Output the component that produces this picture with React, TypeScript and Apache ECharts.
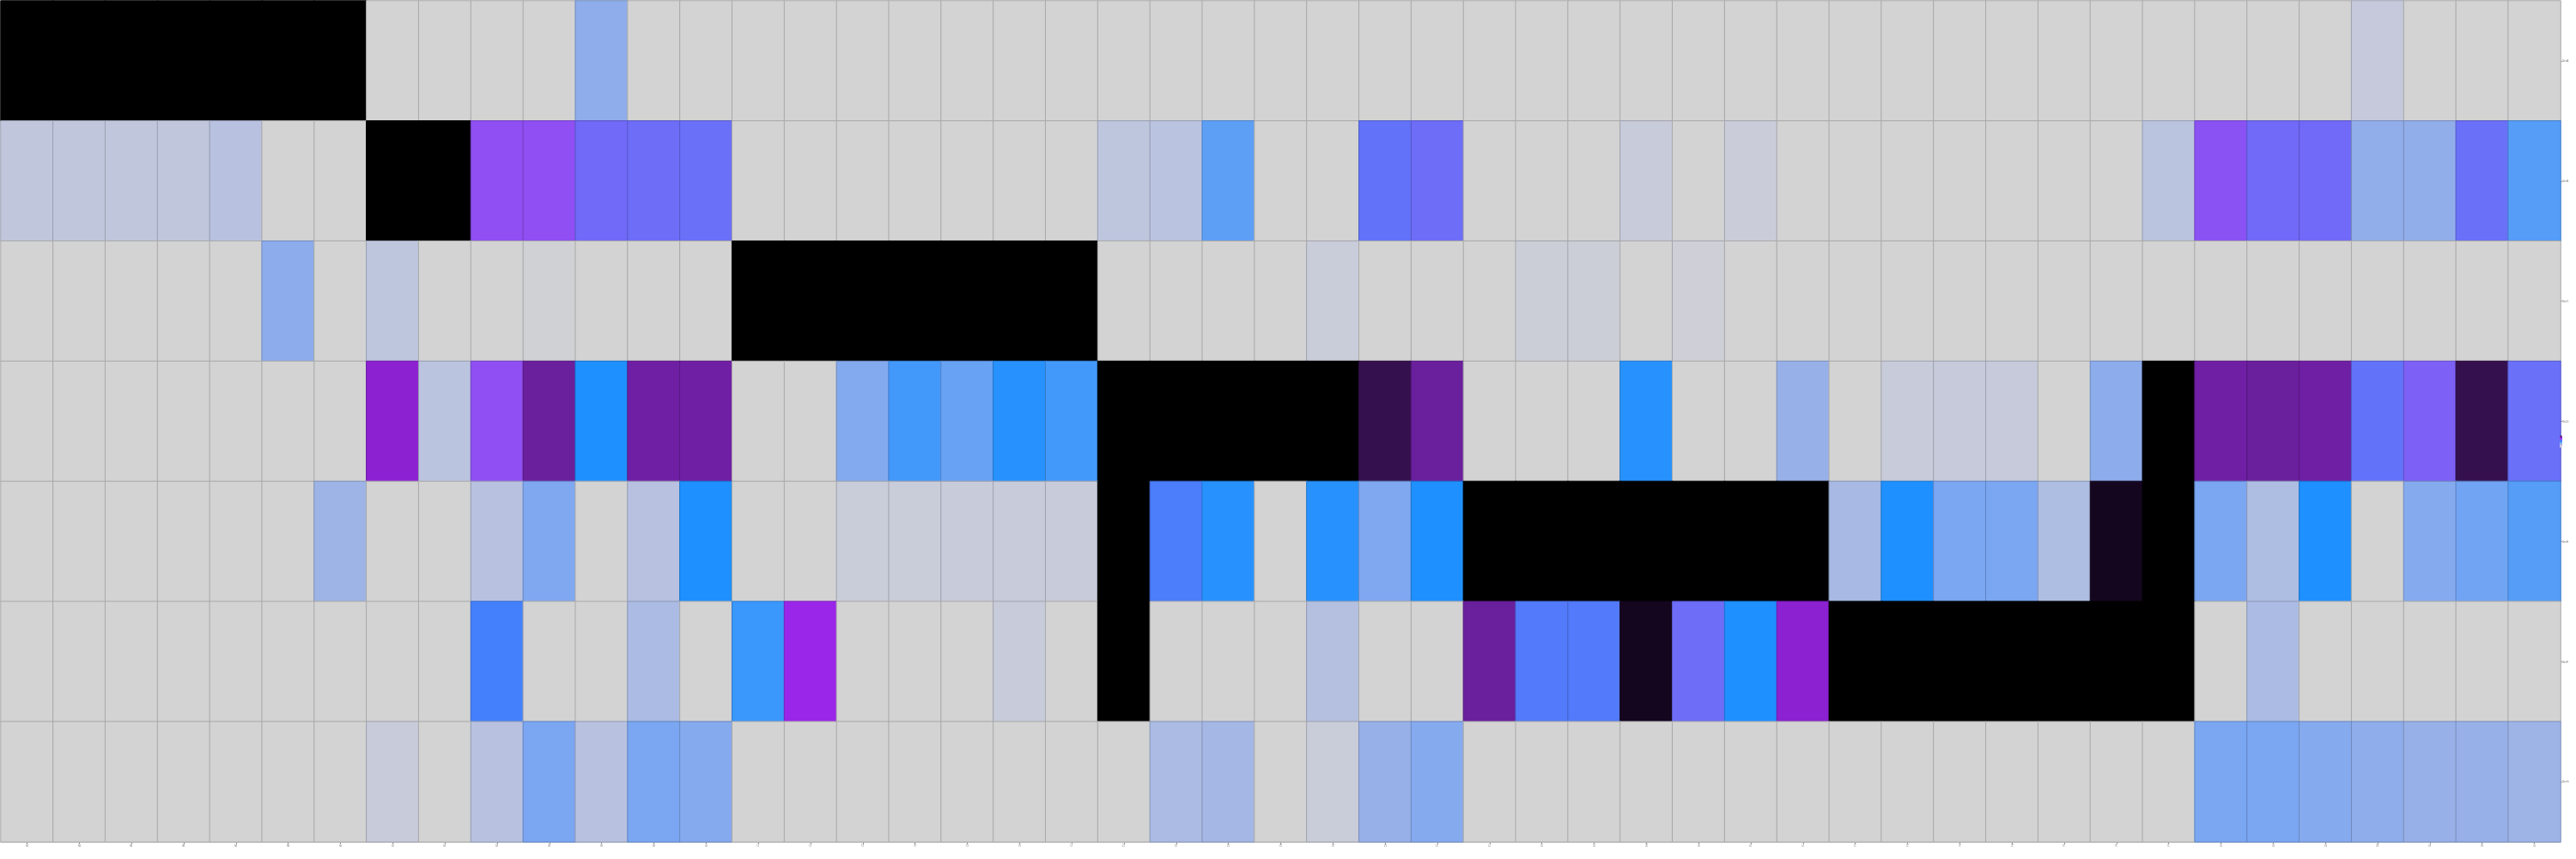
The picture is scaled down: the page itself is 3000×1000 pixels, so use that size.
import React, { useEffect, useRef } from "react";
import * as echarts from "echarts";

const xLabels: string[] = [
  "A1", "A2", "A3", "A4", "A5", "A6", "A7",
  "B1", "B2", "B3", "B4", "B5", "B6", "B7",
  "C1", "C2", "C3", "C4", "C5", "C6", "C7",
  "D1", "D2", "D3", "D4", "D5", "D6", "D7",
  "E1", "E2", "E3", "E4", "E5", "E6", "E7",
  "F1", "F2", "F3", "F4", "F5", "F6", "F7",
  "G1", "G2", "G3", "G4", "G5", "G6", "G7",
];

const yLabels: string[] = ["Set A", "Set B", "Set C", "Set D", "Set E", "Set F", "Set G"];

const row0: number[] = [100, 100, 100, 100, 100, 100, 100, 0, 0, 0, 0, 33, 0, 0, 0, 0, 0, 0, 0, 0, 0, 0, 0, 0, 0, 0, 0, 0, 0, 0, 0, 0, 0, 0, 0, 0, 0, 0, 0, 0, 0, 0, 0, 0, 0, 12, 0, 0, 0];
const row1: number[] = [15, 15, 15, 15, 20, 0, 0, 100, 100, 70, 70, 62, 61, 60, 0, 0, 0, 0, 0, 0, 0, 16, 19, 43, 0, 0, 59, 61, 0, 0, 0, 10, 0, 8, 0, 0, 0, 0, 0, 0, 0, 18, 69, 62, 62, 32, 32, 60, 44];
const row2: number[] = [0, 0, 0, 0, 0, 34, 0, 16, 0, 0, 3, 0, 0, 0, 100, 100, 100, 100, 100, 100, 100, 0, 0, 0, 0, 9, 0, 0, 0, 6, 6, 0, 5, 0, 0, 0, 0, 0, 0, 0, 0, 0, 0, 0, 0, 0, 0, 0, 0];
const row3: number[] = [0, 0, 0, 0, 0, 0, 0, 83, 18, 70, 90, 50, 89, 89, 0, 0, 37, 46, 42, 49, 46, 100, 100, 100, 100, 100, 95, 90, 0, 0, 0, 49, 0, 0, 30, 0, 10, 11, 11, 0, 34, 100, 89, 90, 89, 59, 65, 95, 60];
const row4: number[] = [0, 0, 0, 0, 0, 0, 28, 0, 0, 20, 38, 0, 20, 50, 0, 0, 9, 9, 10, 10, 10, 100, 56, 49, 0, 49, 38, 50, 100, 100, 100, 100, 100, 100, 100, 25, 50, 40, 40, 23, 98, 100, 40, 23, 50, 0, 36, 41, 44];
const row5: number[] = [0, 0, 0, 0, 0, 0, 0, 0, 0, 55, 0, 0, 24, 0, 47, 79, 0, 0, 0, 10, 0, 100, 0, 0, 0, 21, 0, 0, 90, 57, 57, 98, 61, 50, 83, 100, 100, 100, 100, 100, 100, 100, 0, 24, 0, 0, 0, 0, 0];
const row6: number[] = [0, 0, 0, 0, 0, 0, 0, 10, 0, 20, 40, 20, 40, 36, 0, 0, 0, 0, 0, 0, 0, 0, 24, 26, 0, 9, 30, 36, 0, 0, 0, 0, 0, 0, 0, 0, 0, 0, 0, 0, 0, 0, 40, 40, 36, 33, 30, 30, 28];

const rows: number[][] = [row0, row1, row2, row3, row4, row5, row6];

const colorStops: string[] = [
  "#d3d3d3",
  "#c8cbda",
  "#b8c2e0",
  "#98b0e8",
  "#7aa6f2",
  "#1e90ff",
  "#6a70f8",
  "#8f4ff2",
  "#9b22e8",
  "#6a1f9c",
  "#000000",
];

const VMIN = 0;
const VMAX = 100;

function borderFor(v: number): string {
  const c = echarts.color.lerp((v - VMIN) / (VMAX - VMIN), colorStops) as string;
  const arr = echarts.color.parse(c) as number[];
  const k = 0.8;
  return echarts.color.stringify(
    [Math.round(arr[0] * k), Math.round(arr[1] * k), Math.round(arr[2] * k), 1],
    "rgba"
  ) as string;
}

export default function App() {
  const ref = useRef<HTMLDivElement>(null);

  useEffect(() => {
    if (!ref.current) return;
    const chart = echarts.init(ref.current, undefined, { renderer: "svg" });
    const data: any[] = [];
    rows.forEach((r, yi) => {
      r.forEach((v, xi) => {
        data.push({ value: [xi, yi, v], itemStyle: { borderColor: borderFor(v) } });
      });
    });
    chart.setOption({
      animation: false,
      grid: { left: 1, top: 1, right: 18, bottom: 20, containLabel: false },
      xAxis: {
        type: "category",
        data: xLabels,
        axisLine: { show: true, lineStyle: { color: "#aaaaaa" } },
        axisTick: { show: true, alignWithLabel: true, length: 3, lineStyle: { color: "#999999" } },
        axisLabel: { interval: 0, rotate: 90, fontSize: 3, color: "#888888", margin: 2 },
        splitLine: { show: false },
      },
      yAxis: {
        type: "category",
        data: yLabels,
        inverse: true,
        position: "right",
        axisLine: { show: false },
        axisTick: { show: true, alignWithLabel: true, length: 2, lineStyle: { color: "#999999" } },
        axisLabel: { fontSize: 3, color: "#666666", margin: 2 },
        splitLine: { show: false },
      },
      visualMap: {
        type: "continuous",
        min: VMIN,
        max: VMAX,
        calculable: false,
        orient: "vertical",
        right: 1,
        top: 492,
        itemWidth: 3,
        itemHeight: 14,
        textGap: 1,
        textStyle: { fontSize: 2, color: "#666666" },
        inRange: { color: colorStops },
      },
      series: [
        {
          type: "heatmap",
          data,
          itemStyle: { borderWidth: 1 },
          emphasis: { disabled: true },
          label: { show: false },
        },
      ],
    });
    return () => {
      chart.dispose();
    };
  }, []);

  return (
    <div
      ref={ref}
      style={{ position: "fixed", left: 0, top: 0, width: 3000, height: 1000 }}
    />
  );
}
